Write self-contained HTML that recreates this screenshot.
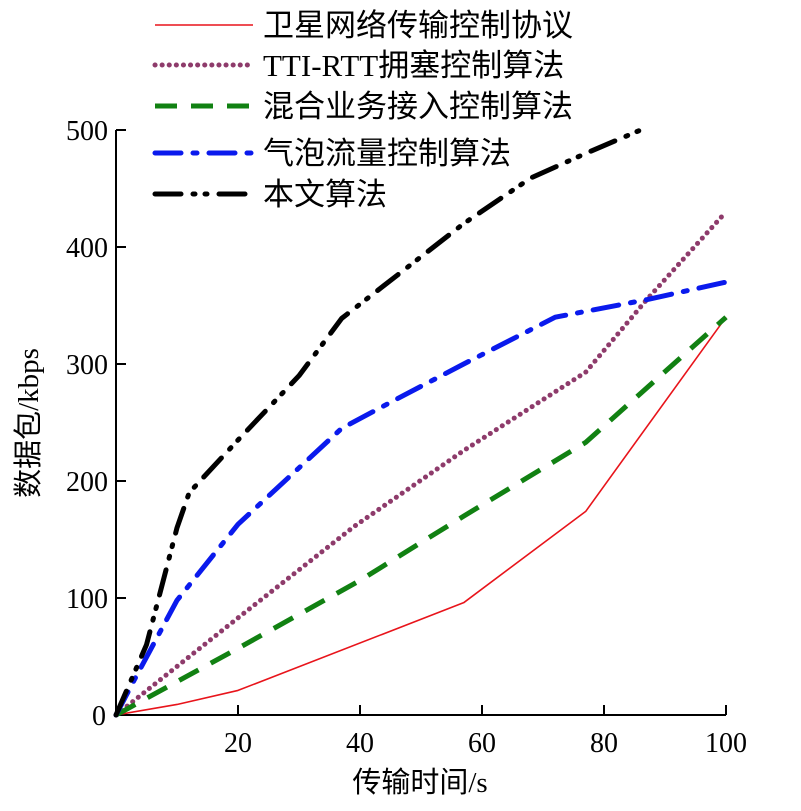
<!DOCTYPE html>
<html><head><meta charset="utf-8"><style>
body{margin:0;background:#fff}
svg{display:block;font-family:"Liberation Serif","Noto Sans CJK SC",serif}
</style></head><body>
<svg id="c" width="801" height="811">
<g id="axes"></g><g id="lines"></g><g id="legend"></g>
</svg>
<script>
const xTicks=[20,40,60,80,100];
const yTicks=[0,100,200,300,400,500];
const seriesNames=["卫星网络传输控制协议","TTI-RTT拥塞控制算法","混合业务接入控制算法","气泡流量控制算法","本文算法"];
const redX=[0,10,20,57,77,100];
const redY=[0,9,21,96,174,340];
const purpleX=[0,20,39,57,77,87,100];
const purpleY=[0,83,161,226,293,355,430];
const greenX=[0,20,40,57,77,100];
const greenY=[0,57,115,170,233,340];
const blueX=[0,3,10,20,37,46,57,72,77,87,100];
const blueY=[0,30,98,163,245,270,300,340,345,355,370];
const blackX=[0,5,10,12,20,30,37,57,68,77,86];
const blackY=[0,60,160,190,235,290,339,420,459,480,500];

const NS="http://www.w3.org/2000/svg";
const X=v=>116+v*6.1;
const Y=v=>715-v*1.17;
function mk(t,a,p){const e=document.createElementNS(NS,t);for(const k in a)e.setAttribute(k,a[k]);p.appendChild(e);return e;}
const ax=document.getElementById('axes');
let e=mk('path',{d:`M${X(0)} ${Y(500)} V${Y(0)} H${X(100)}`,stroke:'#000','stroke-width':2,fill:'none'},ax);


xTicks.forEach(v=>{
 mk('line',{x1:X(v),x2:X(v),y1:Y(0),y2:Y(0)-10,stroke:'#000','stroke-width':2},ax);
 const t=mk('text',{x:X(v),y:752,'text-anchor':'middle','font-size':28},ax);t.textContent=v;
 
 
});
yTicks.forEach(v=>{
 mk('line',{x1:X(0),x2:X(0)+10,y1:Y(v),y2:Y(v),stroke:'#000','stroke-width':2},ax);
 const t=mk('text',{x:v==0?106:108,y:Y(v)+10,'text-anchor':'end','font-size':28},ax);t.textContent=v;
 
 
});
let t=mk('text',{x:420,y:792,'text-anchor':'middle','font-size':29},ax);t.textContent='传输时间/s';


t=mk('text',{x:0,y:0,'text-anchor':'middle','font-size':29,transform:'translate(38,423) rotate(-90)'},ax);t.textContent='数据包/kbps';



const styles=[
 {c:'#e8141b',w:1.6,d:'',cap:'butt'},
 {c:'#8e3b6b',w:5,d:'0.1 7',cap:'round'},
 {c:'#118112',w:5,d:'22 14',cap:'butt'},
 {c:'#0a1aed',w:5,d:'26 12 4 12',cap:'round'},
 {c:'#000',w:5,d:'26 12 2 10 2 12',cap:'round'}
];
const xs=[redX,purpleX,greenX,blueX,blackX], ys=[redY,purpleY,greenY,blueY,blackY];
const names=['line-satellite','line-tti-rtt','line-hybrid','line-bubble','line-proposed'];
const lg=document.getElementById('lines');
xs.forEach((xx,i)=>{
 const s=styles[i];
 const p=mk('polyline',{points:xx.map((v,j)=>X(v)+','+Y(ys[i][j])).join(' '),fill:'none',stroke:s.c,'stroke-width':s.w,'stroke-dasharray':s.d,'stroke-linecap':s.cap,'stroke-linejoin':'round'},lg);
 
 
});
const leg=document.getElementById('legend');
const ly=[25,65,106,153,194];
seriesNames.forEach((n,i)=>{
 const s=styles[i];
 const g=mk('g',{},leg);
 
 
 mk('line',{x1:155,x2:253,y1:ly[i],y2:ly[i],stroke:s.c,'stroke-width':s.w,'stroke-dasharray':s.d,'stroke-linecap':s.cap},g);
 const tt=mk('text',{x:263,y:ly[i]+11,'font-size':31},g);tt.textContent=n;
});
</script>
</body></html>
